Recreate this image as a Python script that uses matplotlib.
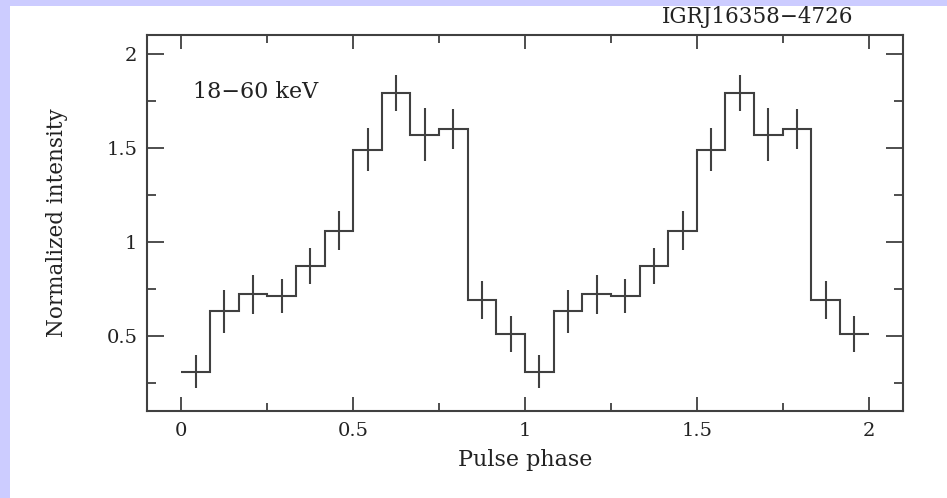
import numpy as np
import matplotlib.pyplot as plt
from matplotlib.patches import Rectangle

# Pulse profile, two cycles of 12 phase bins
n_bins = 12
intensity = [0.31, 0.63, 0.72, 0.71, 0.87, 1.06, 1.49, 1.79, 1.57, 1.60, 0.69, 0.51,
             0.31, 0.63, 0.72, 0.71, 0.87, 1.06, 1.49, 1.79, 1.57, 1.60, 0.69, 0.51]
errors = [0.09, 0.115, 0.105, 0.09, 0.095, 0.105, 0.115, 0.095, 0.14, 0.105, 0.10, 0.095,
          0.09, 0.115, 0.105, 0.09, 0.095, 0.105, 0.115, 0.095, 0.14, 0.105, 0.10, 0.095]
source = "IGRJ16358\u22124726"
band = "18\u221260 keV"

edges = np.arange(len(intensity) + 1) / n_bins
phase = (edges[:-1] + edges[1:]) / 2

plt.rcParams['font.family'] = ['DejaVu Serif']
ink = '#222222'
line_col = '#404040'

fig = plt.figure(figsize=(9.47, 4.98), dpi=100)
fig.patch.set_facecolor('#ccccff')
# white page inside the lavender frame (left and top strips)
fig.patches.append(Rectangle((10 / 947, 0), 1, 1 - 6 / 498, transform=fig.transFigure,
                             facecolor='white', edgecolor='none', zorder=-10))

ax = fig.add_axes([147 / 947, 1 - 411 / 498, 756 / 947, 376 / 498])
ax.set_facecolor('white')

ax.stairs(intensity, edges, baseline=None, color=line_col, linewidth=1.5)
ax.errorbar(phase, intensity, yerr=errors, fmt='none', ecolor=line_col,
            elinewidth=1.5, capsize=0)

ax.set_xlim(-0.1, 2.1)
ax.set_ylim(0.1, 2.1)
ax.set_xticks([0, 0.5, 1, 1.5, 2])
ax.set_xticklabels(['0', '0.5', '1', '1.5', '2'])
ax.set_xticks(np.arange(0.25, 2, 0.5), minor=True)
ax.set_yticks([0.5, 1, 1.5, 2])
ax.set_yticklabels(['0.5', '1', '1.5', '2'])
ax.set_yticks(np.arange(0.25, 2.1, 0.5), minor=True)

ax.tick_params(which='both', direction='in', top=True, right=True,
               color=line_col, width=1.3, labelcolor=ink, labelsize=14)
ax.tick_params(axis='x', which='major', length=10, pad=8)
ax.tick_params(axis='x', which='minor', length=5.5)
ax.tick_params(axis='y', which='major', length=12, pad=7)
ax.tick_params(axis='y', which='minor', length=6.5)
for sp in ax.spines.values():
    sp.set_color(line_col)
    sp.set_linewidth(1.5)

ax.set_xlabel('Pulse phase', fontsize=16, color=ink)
ax.xaxis.set_label_coords(0.5, -0.1)
ax.set_ylabel('Normalized intensity', fontsize=15.5, color=ink)
ax.yaxis.set_label_coords(-0.105, 0.5)

ax.text(0.061, 0.848, band, transform=ax.transAxes, ha='left', va='center',
        fontsize=16, color=ink)
fig.text(853 / 947, 1 - 17 / 498, source, ha='right', va='center',
         fontsize=15.5, color=ink)

fig.savefig('out.png', dpi=100, facecolor=fig.get_facecolor())
